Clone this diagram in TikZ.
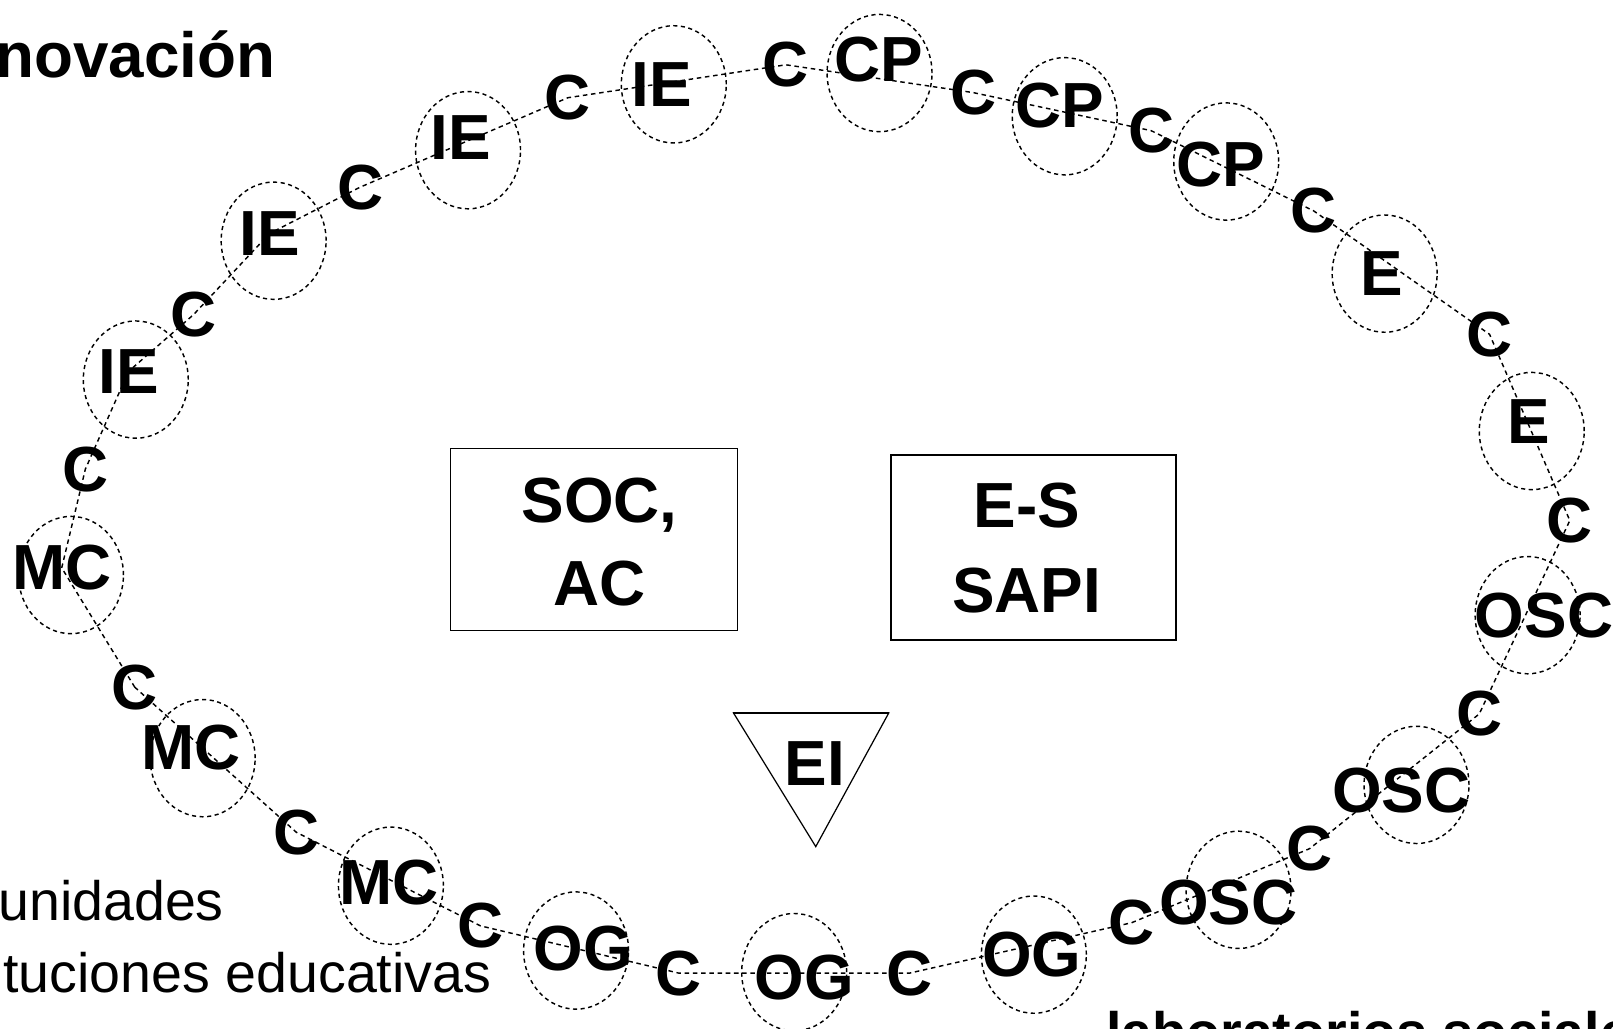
\documentclass[tikz,border=0pt]{standalone}
\usepackage{fontspec}
\setmainfont{Liberation Sans}
\usetikzlibrary{shapes.geometric}
\begin{document}
\begin{tikzpicture}[x=0.5pt,y=-0.5pt,
  lbl/.style={font=\fontsize{31}{37}\selectfont\bfseries, inner sep=0pt},
  ring/.style={ellipse, draw, dash pattern=on 2pt off 1.7pt, line width=0.7pt, minimum width=51pt, minimum height=57pt, inner sep=0pt},
  conn/.style={draw, dash pattern=on 2.2pt off 1.8pt, line width=0.7pt},
  box/.style={draw, line width=0.8pt, align=center, inner sep=0pt},
  note/.style={font=\fontsize{27}{32}\selectfont, inner sep=0pt},
]
\useasboundingbox (0,0) rectangle (1568,1000);
\clip (0,0) rectangle (1568,1000);
\fill[white] (0,0) rectangle (1568,1000);

% rings
\node[ring] (r-mc1) at (69,559) {};
\node[ring] (r-ie1) at (132,369) {};
\node[ring] (r-ie2) at (266,234) {};
\node[ring] (r-ie3) at (455,146) {};
\node[ring] (r-ie4) at (655,82) {};
\node[ring] (r-cp1) at (855,71) {};
\node[ring] (r-cp2) at (1035,113) {};
\node[ring] (r-cp3) at (1192,157) {};
\node[ring] (r-e1) at (1346,266) {};
\node[ring] (r-e2) at (1489,419) {};
\node[ring] (r-osc1) at (1485,598) {};
\node[ring] (r-osc2) at (1377,763) {};
\node[ring] (r-osc3) at (1204,865) {};
\node[ring] (r-og3) at (1005,928) {};
\node[ring] (r-og2) at (772,945) {};
\node[ring] (r-og1) at (560,924) {};
\node[ring] (r-mc3) at (380,861) {};
\node[ring] (r-mc2) at (197,737) {};

% labels
\node[lbl] (mc1) at (60,552) {MC};
\node[lbl] (c1) at (83,456) {C};
\node[lbl] (ie1) at (125,361) {IE};
\node[lbl] (c2) at (188,306) {C};
\node[lbl] (ie2) at (262,227) {IE};
\node[lbl] (c3) at (350,182) {C};
\node[lbl] (ie3) at (448,134) {IE};
\node[lbl] (c4) at (552,95) {C};
\node[lbl] (ie4) at (643,82) {IE};
\node[lbl] (c5) at (764,63) {C};
\node[lbl] (cp1) at (854,58) {CP};
\node[lbl] (c6) at (946,90) {C};
\node[lbl] (cp2) at (1030,103) {CP};
\node[lbl] (c7) at (1119,127) {C};
\node[lbl] (cp3) at (1187,160) {CP};
\node[lbl] (c8) at (1277,205) {C};
\node[lbl] (e1) at (1343,266) {E};
\node[lbl] (c9) at (1448,325) {C};
\node[lbl] (e2) at (1486,410) {E};
\node[lbl] (c10) at (1526,506) {C};
\node[lbl] (osc1) at (1501,598) {OSC};
\node[lbl] (c11) at (1438,694) {C};
\node[lbl] (osc2) at (1362,768) {OSC};
\node[lbl] (c12) at (1273,825) {C};
\node[lbl] (osc3) at (1194,877) {OSC};
\node[lbl] (c13) at (1100,897) {C};
\node[lbl] (og3) at (1003,928) {OG};
\node[lbl] (c14) at (884,946) {C};
\node[lbl] (og2) at (782,950) {OG};
\node[lbl] (c15) at (660,946) {C};
\node[lbl] (og1) at (567,922) {OG};
\node[lbl] (c16) at (467,900) {C};
\node[lbl] (mc3) at (378,858) {MC};
\node[lbl] (c17) at (288,809) {C};
\node[lbl] (mc2) at (186,727) {MC};
\node[lbl] (c18) at (131,668) {C};

% chain of dashed connectors
\draw[conn] (c18.center) -- (mc1.center) -- (c1.center) -- (ie1.center) -- (c2.center)
  -- (ie2.center) -- (c3.center) -- (c4.center) -- (c5.center) -- (c6.center)
  -- (c7.center) -- (c8.center) -- (c9.center) -- (c10.center) -- (c11.center)
  -- (c12.center) -- (c13.center) -- (c14.center) -- (c15.center) -- (c16.center)
  -- (c17.center) -- (c18.center);

% central boxes
\node[box, minimum width=139.5pt, minimum height=88.5pt] (soc) at (577.5,524.5) {};
\node[lbl, align=center, font=\fontsize{31}{40}\selectfont\bfseries] (soct) at (583,527) {SOC,\\AC};
\node[box, minimum width=138.5pt, minimum height=90pt] (es) at (1004.5,532) {};
\node[lbl, align=center, font=\fontsize{31}{41.5}\selectfont\bfseries] (est) at (998,533) {E-S\\SAPI};

% triangle
\coordinate (tl) at (713,693);
\coordinate (tr) at (864,693);
\coordinate (tb) at (793,823);
\draw[line width=0.6pt] (tl) -- (tr) -- (tb) -- cycle;
\draw[line width=1pt] (tl) -- (tr);
\node[lbl] (ei) at (792,742) {EI};

% side texts
\node[lbl, anchor=base east] (title) at (268,75) {Innovación};
\node[note, anchor=base east] (n1) at (218,895) {Comunidades};
\node[note, anchor=base east] (n2) at (478,965) {Instituciones educativas};
\node[note, font=\fontsize{27}{32}\selectfont\bfseries, anchor=base west] (lab) at (1075,1022) {laboratorios sociales};
\end{tikzpicture}
\end{document}
